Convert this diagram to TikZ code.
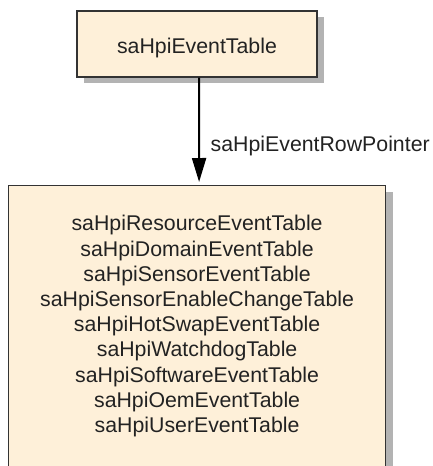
\documentclass[tikz,border=0pt]{standalone}
\usepackage{fontspec}
\setmainfont{Liberation Sans}
\usetikzlibrary{arrows.meta,shadows}
\definecolor{boxfill}{HTML}{FEF0D9}
\definecolor{boxline}{HTML}{333333}
\definecolor{shadowgray}{HTML}{B3B3B3}
\definecolor{ink}{HTML}{222222}
\begin{document}
\begin{tikzpicture}[x=1pt,y=1pt,
  tablebox/.style={draw=boxline, line width=1.3pt, fill=boxfill, inner sep=0pt,
    general shadow={fill=shadowgray, shadow xshift=7pt, shadow yshift=-6pt}},
  tabletext/.style={text=ink, font=\fontsize{21.3}{25.2}\selectfont, inner sep=0pt},
  pointer/.style={draw=black, line width=2pt, -{Triangle[length=24pt,width=14pt]}, shorten >=3pt}
]
\useasboundingbox (0,0) rectangle (432,-466);
\clip (0,0) rectangle (432,-466);

% event table box
\node[tablebox, minimum width=240pt, minimum height=66pt] (eventtable) at (197,-44) {};
\node[tabletext, anchor=base] (eventtablename) at (197,-53.3) {saHpiEventTable};

% box listing the event row tables (runs off the bottom)
\node[tablebox, minimum width=377pt, minimum height=320pt, anchor=north] (eventrows) at (197.1,-185) {};
\node[tabletext, align=center, anchor=north] (eventrowlist) at (197.1,-215.2) {%
  saHpiResourceEventTable\\
  saHpiDomainEventTable\\
  saHpiSensorEventTable\\
  saHpiSensorEnableChangeTable\\
  saHpiHotSwapEventTable\\
  saHpiWatchdogTable\\
  saHpiSoftwareEventTable\\
  saHpiOemEventTable\\
  saHpiUserEventTable};

% row pointer
\draw[pointer] ([xshift=2pt]eventtable.south) -- ([xshift=2pt]eventrows.north);
\node[tabletext, anchor=base west] (pointerlabel) at (210.5,-151.7) {saHpiEventRowPointer};
\end{tikzpicture}
\end{document}
